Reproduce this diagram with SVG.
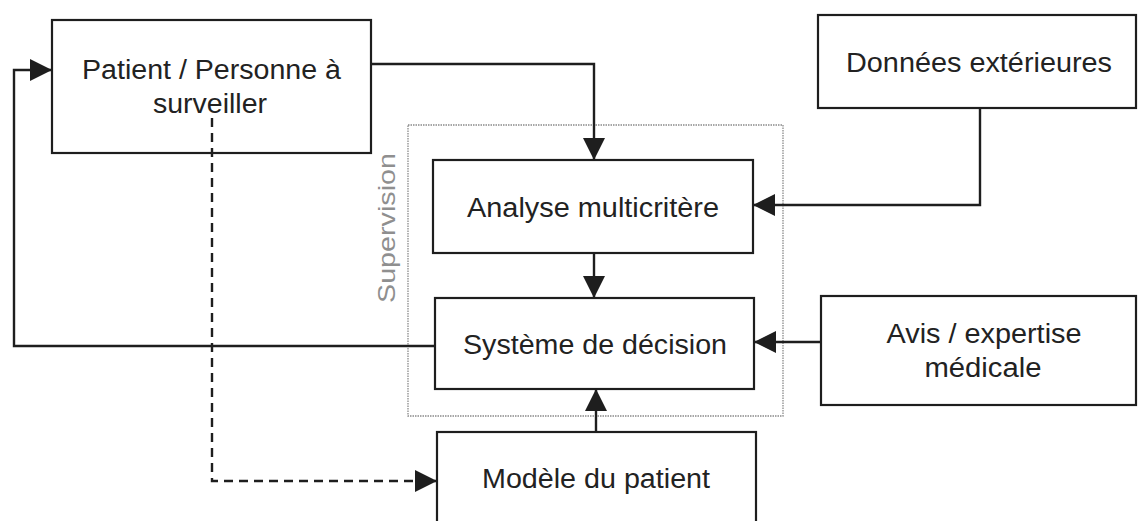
<svg xmlns="http://www.w3.org/2000/svg" width="1138" height="521" viewBox="0 0 1138 521">
<style>
.box{fill:none;stroke:#1e1e1e;stroke-width:2.2}
.sup{fill:none;stroke:#8a8a8a;stroke-width:1.3;stroke-dasharray:1.5 1}
.lbl{font-family:"Liberation Sans",Arial,sans-serif;font-size:27px;fill:#222222;text-anchor:middle}
.suplbl{font-family:"Liberation Sans",Arial,sans-serif;font-size:24px;fill:#8f8f8f;text-anchor:middle}
.con{fill:none;stroke:#1e1e1e;stroke-width:2.4}
.dash{fill:none;stroke:#1e1e1e;stroke-width:2.4;stroke-dasharray:9 6}
</style>
<defs>
<marker id="arr" markerUnits="userSpaceOnUse" markerWidth="22" markerHeight="22" viewBox="0 0 22 22" refX="22" refY="11" orient="auto">
<path d="M0,0 L22,11 L0,22 z" fill="#1e1e1e"/>
</marker>
</defs>
<rect width="1138" height="521" fill="#ffffff"/>
<g id="supervision">
<rect class="sup" x="408" y="125" width="375" height="291"/>
<text class="suplbl" transform="translate(395,228) rotate(-90)" textLength="150" lengthAdjust="spacingAndGlyphs">Supervision</text>
</g>
<g id="patient">
<rect class="box" x="52" y="20" width="319" height="133"/>
<text class="lbl" x="211.5" y="79" textLength="259" lengthAdjust="spacingAndGlyphs">Patient / Personne à</text>
<text class="lbl" x="210" y="113" textLength="114" lengthAdjust="spacingAndGlyphs">surveiller</text>
</g>
<g id="donnees">
<rect class="box" x="818" y="15" width="318" height="93"/>
<text class="lbl" x="979" y="72" textLength="266" lengthAdjust="spacingAndGlyphs">Données extérieures</text>
</g>
<g id="analyse">
<rect class="box" x="433" y="160" width="320" height="93"/>
<text class="lbl" x="593" y="217" textLength="252" lengthAdjust="spacingAndGlyphs">Analyse multicritère</text>
</g>
<g id="decision">
<rect class="box" x="435" y="298" width="319" height="91"/>
<text class="lbl" x="595" y="354" textLength="264" lengthAdjust="spacingAndGlyphs">Système de décision</text>
</g>
<g id="avis">
<rect class="box" x="821" y="296" width="315" height="109"/>
<text class="lbl" x="984" y="343" textLength="195" lengthAdjust="spacingAndGlyphs">Avis / expertise</text>
<text class="lbl" x="983" y="377" textLength="117" lengthAdjust="spacingAndGlyphs">médicale</text>
</g>
<g id="modele">
<rect class="box" x="437" y="432" width="319" height="100"/>
<text class="lbl" x="596" y="488" textLength="228" lengthAdjust="spacingAndGlyphs">Modèle du patient</text>
</g>
<g id="connectors">
<path class="con" d="M371,64 H594 V160" marker-end="url(#arr)"/>
<path class="con" d="M980,108 V205 H753" marker-end="url(#arr)"/>
<path class="con" d="M594,253 V298" marker-end="url(#arr)"/>
<path class="con" d="M821,342 H754" marker-end="url(#arr)"/>
<path class="con" d="M435,346 H14 V70 H52" marker-end="url(#arr)"/>
<path class="con" d="M596,432 V389" marker-end="url(#arr)"/>
<path class="dash" d="M212,118 V481 H437" marker-end="url(#arr)"/>
</g>
</svg>
